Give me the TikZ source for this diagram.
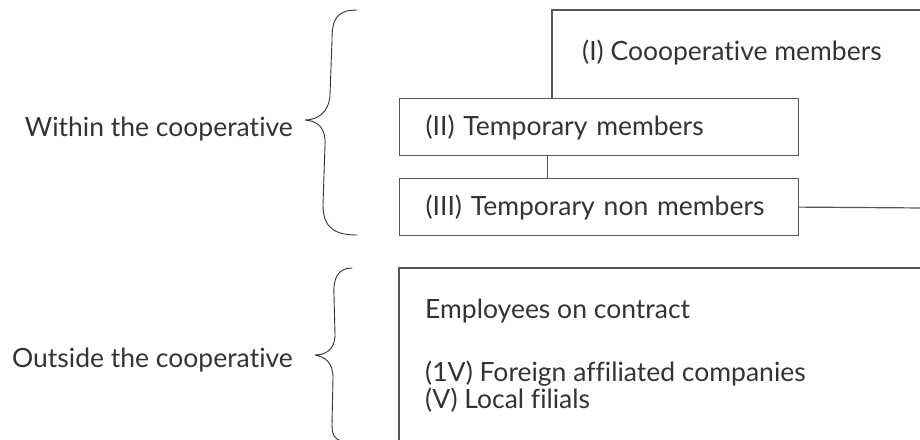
\documentclass[tikz,border=0pt]{standalone}
\usepackage{fontspec}
\setmainfont{Lato}[Ligatures=NoCommon]
\usetikzlibrary{positioning}
\definecolor{inkgray}{HTML}{333333}
\definecolor{linegray}{HTML}{555555}
\tikzset{
  member/.style={draw=linegray, fill=white, line width=1.2pt, minimum width=399pt, minimum height=57pt,
    text width=347pt, inner xsep=26pt, align=left, anchor=north west, text=inkgray},
  entry/.style={anchor=base west, text=inkgray, inner sep=0pt},
  grouptext/.style={anchor=base east, text=inkgray, inner sep=0pt},
  curly/.style={draw=inkgray, line width=0.9pt, line cap=round, line join=round}
}
\begin{document}
\begin{tikzpicture}[x=1pt, y=-1pt, font=\fontsize{26.5}{27}\selectfont]
 \clip (0,0) rectangle (920,439);
 % group labels and braces
 \node[grouptext] (within) at (293,136) {Within the cooperative};
 \node[grouptext] (outside) at (293,367) {Outside the cooperative};
 \draw[curly] (357,10) .. controls (336,10) and (332,20) .. (332,40) -- (330,95)
   .. controls (329,112) and (318,120) .. (305,120)
   .. controls (318,121) and (326,128) .. (325,145) -- (323,205)
   .. controls (323,228) and (335,235) .. (357,235);
 \draw[curly] (352,268) .. controls (338,268) and (333,278) .. (334,295) -- (335,335)
   .. controls (335,350) and (325,355) .. (315,355)
   .. controls (325,357) and (333,362) .. (333,378) -- (332,425)
   .. controls (332,435) and (335,440) .. (342,441);
 % (I) box, open to the right
 \draw[linegray, line width=1.2pt] (552,98) |- (925,10);
 \node[entry] (coop) at (582,60) {(I) Coooperative members};
 % (II) and (III)
 \node[member] (temp) at (399,98) {(II) Temporary members};
 \node[member] (nonmem) at (399,178) {(III) Temporary non members};
 \draw[linegray, line width=1.2pt] ([xshift=-52pt]temp.south) -- ([xshift=-52pt]nonmem.north);
 \coordinate (rim) at (925,208);
 \draw[linegray, line width=1.2pt] (nonmem.east) -- (rim);
 % outside box, open to the right and below
 \draw[linegray, line width=1.2pt] (399,445) |- (925,268);
 \node[entry] (contract) at (425,318) {Employees on contract};
 \node[entry] (foreign) at (425,381) {(1V) Foreign affiliated companies};
 \node[entry] (local) at (425,408) {(V) Local filials};
\end{tikzpicture}
\end{document}
